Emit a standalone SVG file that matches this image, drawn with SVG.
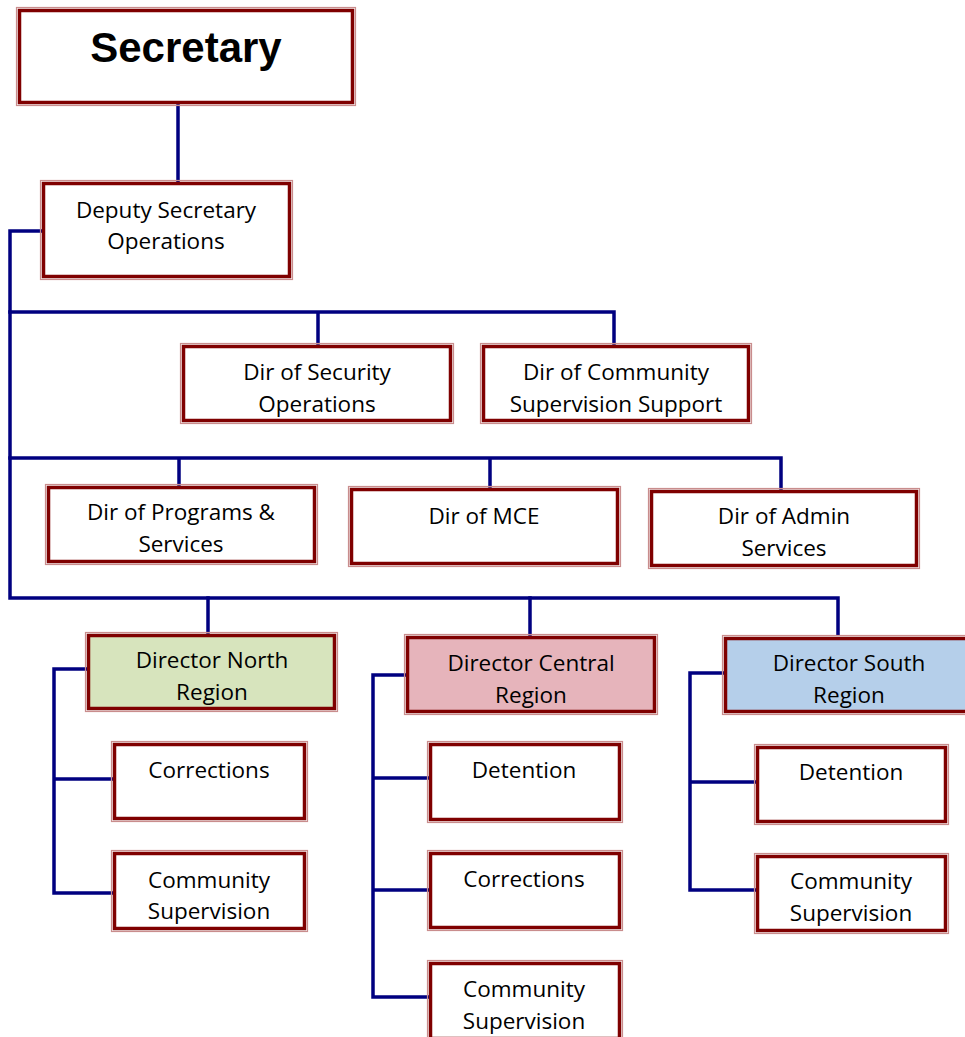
<svg xmlns="http://www.w3.org/2000/svg" width="965" height="1037" viewBox="0 0 965 1037">
<style>
.o{fill:none;stroke:#c98d8d;stroke-width:1.2}
.i{fill:#ffffff;stroke:#7f0000;stroke-width:3.5}
.n{fill:#d7e4bd}.c{fill:#e6b4bb}.s{fill:#b5cfea}
.t{font-family:"Open Sans","Liberation Sans",sans-serif;font-size:22.5px;fill:#000;text-anchor:middle}
.h{font-family:"Liberation Sans",Arial,sans-serif;font-size:42px;font-weight:bold;fill:#000;text-anchor:middle}
.l{fill:none;stroke:#000080;stroke-width:3.5;stroke-linecap:square;stroke-linejoin:miter}
</style>
<rect width="965" height="1037" fill="#fff"/>
<g id="connectors">
<path class="l" d="M178,106 V181"/>
<path class="l" d="M41,231 H10 V598 H838 V634"/>
<path class="l" d="M10,312 H614 V343 M318,312 V343"/>
<path class="l" d="M10,458 H781 V488 M179,458 V484 M490,458 V486"/>
<path class="l" d="M208,598 V632 M530,598 V634"/>
<path class="l" d="M86,669 H54 V893 H112 M54,779 H112"/>
<path class="l" d="M405,675 H373 V997 H428 M373,778 H428 M373,890 H428"/>
<path class="l" d="M723,673 H690 V890 H755 M690,782 H755"/>
</g>
<g id="secretary"><rect class="o" x="16.5" y="7.5" width="339" height="98"/><rect class="i" x="19.5" y="10.5" width="333" height="92"/><text class="h" x="186" y="62">Secretary</text></g>
<g id="deputy"><rect class="o" x="40.5" y="180.5" width="252" height="99"/><rect class="i" x="43.5" y="183.5" width="246" height="93"/><text class="t" x="166" y="218">Deputy Secretary</text><text class="t" x="166" y="249">Operations</text></g>
<g id="security"><rect class="o" x="180.5" y="343.5" width="273" height="80"/><rect class="i" x="183.5" y="346.5" width="267" height="74"/><text class="t" x="317" y="380">Dir of Security</text><text class="t" x="317" y="412">Operations</text></g>
<g id="commsupport"><rect class="o" x="480.5" y="343.5" width="271" height="80"/><rect class="i" x="483.5" y="346.5" width="265" height="74"/><text class="t" x="616" y="380">Dir of Community</text><text class="t" x="616" y="412">Supervision Support</text></g>
<g id="programs"><rect class="o" x="45.5" y="484.5" width="272" height="80"/><rect class="i" x="48.5" y="487.5" width="266" height="74"/><text class="t" x="181" y="520">Dir of Programs &amp;</text><text class="t" x="181" y="552">Services</text></g>
<g id="mce"><rect class="o" x="348.5" y="486.5" width="272" height="80"/><rect class="i" x="351.5" y="489.5" width="266" height="74"/><text class="t" x="484" y="524">Dir of MCE</text></g>
<g id="admin"><rect class="o" x="648.5" y="488.5" width="271" height="80"/><rect class="i" x="651.5" y="491.5" width="265" height="74"/><text class="t" x="784" y="524">Dir of Admin</text><text class="t" x="784" y="556">Services</text></g>
<g id="north"><rect class="o" x="85.5" y="632.5" width="252" height="79"/><rect class="i n" x="88.5" y="635.5" width="246" height="73"/><text class="t" x="212" y="668">Director North</text><text class="t" x="212" y="700">Region</text></g>
<g id="central"><rect class="o" x="404.5" y="634.5" width="253" height="80"/><rect class="i c" x="407.5" y="637.5" width="247" height="74"/><text class="t" x="531" y="671">Director Central</text><text class="t" x="531" y="703">Region</text></g>
<g id="south"><rect class="o" x="722.5" y="635.5" width="253" height="79"/><rect class="i s" x="725.5" y="638.5" width="247" height="73"/><text class="t" x="849" y="671">Director South</text><text class="t" x="849" y="703">Region</text></g>
<g id="north-corrections"><rect class="o" x="111.5" y="741.5" width="196" height="80"/><rect class="i" x="114.5" y="744.5" width="190" height="74"/><text class="t" x="209" y="778">Corrections</text></g>
<g id="north-community"><rect class="o" x="111.5" y="850.5" width="196" height="81"/><rect class="i" x="114.5" y="853.5" width="190" height="75"/><text class="t" x="209" y="888">Community</text><text class="t" x="209" y="919">Supervision</text></g>
<g id="central-detention"><rect class="o" x="427.5" y="741.5" width="195" height="81"/><rect class="i" x="430.5" y="744.5" width="189" height="75"/><text class="t" x="524" y="778">Detention</text></g>
<g id="central-corrections"><rect class="o" x="427.5" y="850.5" width="195" height="80"/><rect class="i" x="430.5" y="853.5" width="189" height="74"/><text class="t" x="524" y="887">Corrections</text></g>
<g id="central-community"><rect class="o" x="427.5" y="960.5" width="195" height="81"/><rect class="i" x="430.5" y="963.5" width="189" height="75"/><text class="t" x="524" y="997">Community</text><text class="t" x="524" y="1029">Supervision</text></g>
<g id="south-detention"><rect class="o" x="754.5" y="744.5" width="194" height="80"/><rect class="i" x="757.5" y="747.5" width="188" height="74"/><text class="t" x="851" y="780">Detention</text></g>
<g id="south-community"><rect class="o" x="754.5" y="853.5" width="194" height="80"/><rect class="i" x="757.5" y="856.5" width="188" height="74"/><text class="t" x="851" y="889">Community</text><text class="t" x="851" y="921">Supervision</text></g>
</svg>
